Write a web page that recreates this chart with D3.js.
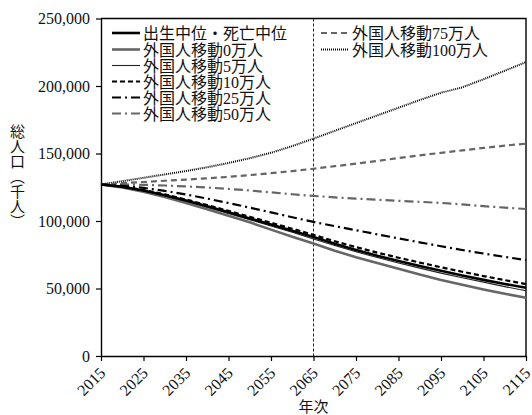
<!DOCTYPE html>
<html>
<head>
<meta charset="utf-8">
<script src="https://cdn.jsdelivr.net/npm/d3@7"></script>
<style>
  body { margin: 0; background: #fff; }
  svg text { font-family: "Liberation Serif", "Noto Sans CJK JP", serif; fill: #111; }
</style>
</head>
<body>
<svg id="chart" width="532" height="415"></svg>
<script>
// Projection years (5-year steps)
const years = [2015, 2020, 2025, 2030, 2035, 2040, 2045, 2050, 2055, 2060, 2065,
               2070, 2075, 2080, 2085, 2090, 2095, 2100, 2105, 2110, 2115];

// Total population (thousands) per scenario
const medium = [127095, 125325, 122544, 119125, 115216, 110919, 106421, 101923, 97441, 92840, 88077,
                83200, 78600, 74300, 70400, 66700, 63100, 59700, 56400, 53400, 50600];
const mig0   = [127095, 124800, 121600, 117800, 113400, 108700, 103900, 99000, 93600, 88400, 83300,
                78000, 73200, 68800, 64700, 60300, 56300, 52700, 49300, 46100, 43100];
const mig5   = [127095, 125200, 122200, 118700, 114600, 110200, 105600, 101000, 96300, 91600, 86700,
                81800, 77200, 72900, 68900, 65100, 61400, 58000, 54700, 51400, 48300];
const mig10  = [127095, 125500, 122900, 119700, 115900, 111800, 107500, 103100, 98700, 94300, 89700,
                85000, 80600, 76600, 72800, 69200, 65700, 62400, 59200, 56200, 53300];
const mig25  = [127095, 126100, 124500, 122300, 119600, 116600, 113300, 109900, 106400, 102800, 99300,
                96200, 93200, 90100, 87100, 84200, 81300, 78500, 75900, 73400, 71000];
const mig50  = [127095, 127100, 126800, 126300, 125600, 124800, 123800, 122600, 121200, 119800, 118600,
                117500, 116600, 115700, 114900, 114200, 113400, 112300, 111000, 109900, 108900];
const mig75  = [127095, 128000, 128900, 129800, 130700, 131600, 132700, 134000, 135400, 137000, 138700,
                140600, 142500, 144500, 146600, 148600, 150500, 152300, 154100, 155800, 157300];
const mig100 = [127095, 129500, 132000, 134500, 137000, 139800, 143000, 146500, 150500, 155500, 161000,
                166800, 172500, 178200, 183900, 189600, 195000, 199000, 205000, 211300, 217700];

const seriesLabels = ["出生中位・死亡中位", "外国人移動0万人", "外国人移動5万人", "外国人移動10万人",
                      "外国人移動25万人", "外国人移動50万人", "外国人移動75万人", "外国人移動100万人"];
const seriesValues = [medium, mig0, mig5, mig10, mig25, mig50, mig75, mig100];

const xTickYears = [2015, 2025, 2035, 2045, 2055, 2065, 2075, 2085, 2095, 2105, 2115];
const yTickValues = [0, 50000, 100000, 150000, 200000, 250000];
const markerYear = 2065;

// Line styles per scenario
const styles = [
  { color: "#000", width: 2.6, dash: null },
  { color: "#666", width: 2.6, dash: null },
  { color: "#222", width: 1.1, dash: null },
  { color: "#000", width: 2.2, dash: "5,3" },
  { color: "#000", width: 2.2, dash: "9,4,2,4" },
  { color: "#666", width: 2.2, dash: "9,4,2,4" },
  { color: "#666", width: 2.2, dash: "6,4" },
  { color: "#000", width: 2.0, dash: "1,1" }
];

const svg = d3.select("#chart");
const plotL = 101, plotR = 526, plotT = 18.5, plotB = 356;

const x = d3.scaleLinear().domain([2015, 2115]).range([plotL, plotR]);
const y = d3.scaleLinear().domain([0, 250000]).range([plotB, plotT]);

// Frame (top and right edges)
svg.append("path")
  .attr("d", `M${plotL},${plotT}H${plotR}V${plotB}`)
  .attr("fill", "none").attr("stroke", "#000").attr("stroke-width", 1.4);

// Y axis
const yAxis = svg.append("g").attr("transform", `translate(${plotL},0)`)
  .call(d3.axisLeft(y).tickValues(yTickValues).tickSize(5).tickSizeOuter(0).tickFormat(d3.format(",")));
yAxis.select(".domain").attr("stroke-width", 1.4);
yAxis.selectAll(".tick line").attr("stroke-width", 1.2);
yAxis.selectAll(".tick text").attr("font-size", 16).attr("x", -11)
  .attr("font-family", "Liberation Serif").attr("fill", "#111");

// X axis with diagonal year labels ending at each tick
const xAxis = svg.append("g").attr("transform", `translate(0,${plotB})`)
  .call(d3.axisBottom(x).tickValues(xTickYears).tickSize(5).tickSizeOuter(0).tickFormat(d3.format("d")));
xAxis.select(".domain").attr("stroke-width", 1.4);
xAxis.selectAll(".tick line").attr("stroke-width", 1.2);
xAxis.selectAll(".tick text")
  .attr("font-size", 16).attr("font-family", "Liberation Serif").attr("fill", "#111")
  .attr("text-anchor", "end").attr("dy", null).attr("y", 0).attr("x", 0)
  .attr("transform", "translate(5,18) rotate(-45)");

// Reference year marker
svg.append("line")
  .attr("x1", x(markerYear)).attr("x2", x(markerYear))
  .attr("y1", plotT).attr("y2", plotB)
  .attr("stroke", "#222").attr("stroke-width", 1).attr("stroke-dasharray", "3,2");

// Scenario lines
const line = d3.line().x((d, i) => x(years[i])).y(d => y(d));
const drawOrder = [7, 6, 5, 4, 3, 1, 2, 0];
drawOrder.forEach(k => {
  const s = styles[k];
  svg.append("path")
    .datum(seriesValues[k])
    .attr("d", line)
    .attr("fill", "none")
    .attr("stroke", s.color)
    .attr("stroke-width", s.width)
    .attr("stroke-dasharray", s.dash);
});

// Legend
const legendPos = [
  [112, 33], [112, 49.5], [112, 65.5], [112, 81.5], [112, 97.5], [112, 113.5],
  [321, 33], [321, 49.5]
];
seriesLabels.forEach((name, k) => {
  const [lx, ly] = legendPos[k];
  const s = styles[k];
  svg.append("line")
    .attr("x1", lx).attr("x2", lx + 28).attr("y1", ly).attr("y2", ly)
    .attr("stroke", s.color).attr("stroke-width", s.width).attr("stroke-dasharray", s.dash);
  svg.append("text")
    .attr("x", lx + 31).attr("y", ly + 6)
    .attr("font-size", 16)
    .text(name);
});

// Axis titles (vertical title uses vertical-form brackets)
svg.append("text")
  .attr("x", 16).attr("y", 176)
  .attr("font-size", 15)
  .attr("font-family", "Noto Sans CJK JP")
  .style("writing-mode", "vertical-rl")
  .attr("text-anchor", "middle")
  .text("総人口︵千人︶");

svg.append("text")
  .attr("x", x(markerYear)).attr("y", 412)
  .attr("font-size", 15)
  .attr("font-family", "Noto Sans CJK JP")
  .attr("text-anchor", "middle")
  .text("年次");
</script>
</body>
</html>
